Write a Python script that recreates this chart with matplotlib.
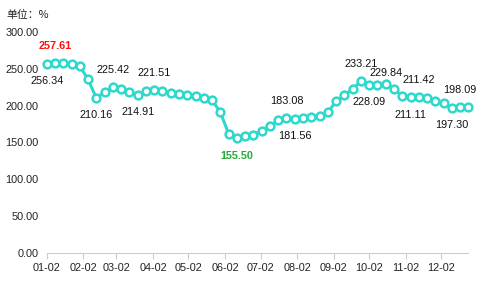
import matplotlib
matplotlib.use("Agg")
import matplotlib.pyplot as plt
import pandas as pd

dates = pd.date_range("2023-01-02", periods=52, freq="7D")
values = [256.34, 257.61, 257.3, 256.8, 253.5, 236.0, 210.16, 219.0, 225.42, 222.5,
          218.5, 214.91, 219.5, 221.51, 219.5, 217.0, 215.5, 214.5, 213.0, 211.0,
          207.5, 191.0, 162.0, 155.50, 158.5, 160.5, 166.0, 172.0, 180.0, 183.08,
          181.56, 183.0, 184.5, 186.5, 191.0, 206.0, 214.0, 223.0, 233.21, 228.09,
          228.7, 229.84, 223.0, 212.5, 211.11, 211.42, 210.0, 207.0, 203.0, 197.30,
          198.09, 197.6]
tick_dates = [pd.Timestamp(2023, m, 2) for m in range(1, 13)]
tick_labels = [d.strftime("%m-%d") for d in tick_dates]
yticks = [0, 50, 100, 150, 200, 250, 300]
# annotated extremes: maxima above, minima below
label_above = [1, 8, 13, 29, 38, 41, 45, 50]
label_below = [0, 6, 11, 23, 30, 39, 44, 49]
max_idx = 1
min_idx = 23

fig = plt.figure(figsize=(4.81, 2.92), dpi=100)
ax = fig.add_axes([0.0971, 0.1336, 0.9738 - 0.0971, 0.8904 - 0.1336])
color = "#2fd8cc"
ax.plot(dates, values, color=color, lw=2.2, marker="o", ms=5.6, mfc="white",
        mec=color, mew=1.8, zorder=3, clip_on=False)
ax.set_xlim(dates[0], dates[-1])
ax.set_ylim(0, 300)
ax.set_yticks(yticks)
ax.set_yticklabels([f"{v:.2f}" for v in yticks])
ax.set_xticks(tick_dates)
ax.set_xticklabels(tick_labels)
for s in ["top", "right", "left"]:
    ax.spines[s].set_visible(False)
ax.spines["bottom"].set_color("#cccccc")
ax.tick_params(axis="y", length=0, pad=6, labelsize=7.8, labelcolor="#222222")
ax.tick_params(axis="x", length=4, color="#cccccc", pad=3, labelsize=7.8, labelcolor="#222222")
for lbl in ax.get_xticklabels() + ax.get_yticklabels():
    lbl.set_family("Liberation Sans")

def annotate(i, above):
    txt = f"{values[i]:.2f}"
    kw = dict(fontsize=7.8, family="Liberation Sans", color="#111111", ha="center")
    if i == max_idx:
        kw.update(color="#ff1010", fontweight="bold")
    if i == min_idx:
        kw.update(color="#22aa33", fontweight="bold")
    off = 12.3
    if i == 41:
        off = 8.0
    ax.annotate(txt, (dates[i], values[i]), xytext=(0, off if above else -off),
                textcoords="offset points", va="center", **kw)

for i in label_above:
    annotate(i, True)
for i in label_below:
    annotate(i, False)

fig.text(6 / 481, 1 - 15 / 292, "单位：%", fontsize=7.8,
         family=["Noto Sans CJK SC", "DejaVu Sans"], va="center", ha="left", color="#222222")

fig.savefig("out.png", dpi=100)
